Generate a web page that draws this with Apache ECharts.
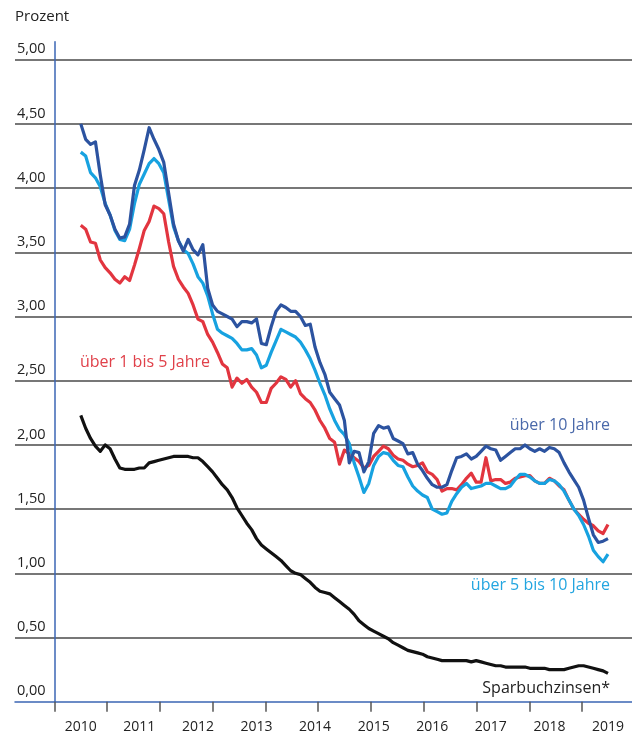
<!DOCTYPE html>
<html>
<head>
<meta charset="utf-8">
<script src="https://cdn.jsdelivr.net/npm/echarts@6/dist/echarts.min.js"></script>
<style>
  html, body { margin: 0; padding: 0; background: #fff; }
  #chart { width: 632px; height: 738px; }
</style>
</head>
<body>
<div id="chart"></div>
<script>
// Monatswerte Jan 2010 - Jan 2019, Prozent
var years = [2010, 2011, 2012, 2013, 2014, 2015, 2016, 2017, 2018, 2019];

var ueber10 = [
  4.50, 4.38, 4.34, 4.36, 4.10, 3.87, 3.79, 3.68, 3.61, 3.62, 3.72, 4.02,
  4.14, 4.30, 4.47, 4.38, 4.30, 4.20, 3.96, 3.72, 3.59, 3.51, 3.60, 3.52,
  3.48, 3.56, 3.22, 3.09, 3.04, 3.02, 3.00, 2.98, 2.92, 2.96, 2.96, 2.95,
  2.98, 2.79, 2.78, 2.92, 3.04, 3.09, 3.07, 3.04, 3.04, 3.00, 2.93, 2.94,
  2.76, 2.64, 2.55, 2.41, 2.36, 2.31, 2.19, 1.86, 1.95, 1.94, 1.79, 1.87,
  2.09, 2.15, 2.13, 2.14, 2.05, 2.03, 2.01, 1.93, 1.94, 1.85, 1.80, 1.74,
  1.69, 1.67, 1.67, 1.69, 1.80, 1.90, 1.91, 1.93, 1.89, 1.91, 1.95, 1.99,
  1.97, 1.96, 1.88, 1.91, 1.94, 1.97, 1.97, 2.00, 1.97, 1.95, 1.97, 1.95,
  1.98, 1.97, 1.94, 1.86, 1.79, 1.73, 1.67, 1.57, 1.43, 1.30, 1.24, 1.25,
  1.27
];

var ueber5bis10 = [
  4.28, 4.25, 4.12, 4.08, 4.01, 3.88, 3.79, 3.67, 3.60, 3.59, 3.68, 3.88,
  4.03, 4.11, 4.19, 4.23, 4.19, 4.12, 3.91, 3.70, 3.59, 3.52, 3.49, 3.41,
  3.31, 3.26, 3.16, 3.02, 2.90, 2.87, 2.85, 2.83, 2.79, 2.74, 2.74, 2.75,
  2.70, 2.60, 2.62, 2.72, 2.81, 2.90, 2.88, 2.86, 2.84, 2.80, 2.74, 2.67,
  2.58, 2.48, 2.39, 2.28, 2.19, 2.12, 2.08, 2.01, 1.86, 1.75, 1.63, 1.70,
  1.84, 1.91, 1.94, 1.93, 1.88, 1.84, 1.83, 1.75, 1.68, 1.64, 1.61, 1.59,
  1.50, 1.48, 1.46, 1.47, 1.56, 1.62, 1.67, 1.70, 1.66, 1.67, 1.68, 1.70,
  1.70, 1.68, 1.66, 1.66, 1.68, 1.73, 1.77, 1.77, 1.75, 1.72, 1.70, 1.70,
  1.73, 1.72, 1.69, 1.64, 1.57, 1.50, 1.45, 1.38, 1.29, 1.18, 1.13, 1.09,
  1.15
];

var ueber1bis5 = [
  3.71, 3.68, 3.58, 3.57, 3.44, 3.38, 3.34, 3.29, 3.26, 3.31, 3.28, 3.40,
  3.53, 3.67, 3.74, 3.86, 3.84, 3.80, 3.58, 3.39, 3.29, 3.23, 3.18, 3.09,
  2.98, 2.96, 2.86, 2.80, 2.72, 2.63, 2.60, 2.45, 2.52, 2.48, 2.51, 2.45,
  2.41, 2.33, 2.33, 2.44, 2.48, 2.53, 2.51, 2.45, 2.50, 2.40, 2.36, 2.33,
  2.27, 2.19, 2.13, 2.05, 2.02, 1.85, 1.96, 1.93, 1.90, 1.87, 1.82, 1.84,
  1.91, 1.95, 1.99, 1.97, 1.92, 1.89, 1.88, 1.85, 1.83, 1.84, 1.86, 1.79,
  1.77, 1.73, 1.64, 1.66, 1.66, 1.65, 1.69, 1.74, 1.78, 1.71, 1.71, 1.90,
  1.72, 1.73, 1.73, 1.70, 1.71, 1.74, 1.75, 1.76, 1.76, 1.72, 1.70, 1.70,
  1.74, 1.72, 1.68, 1.65, 1.57, 1.50, 1.46, 1.42, 1.39, 1.37, 1.33, 1.31,
  1.38
];

var sparbuch = [
  2.23, 2.13, 2.05, 1.99, 1.95, 2.00, 1.97, 1.89, 1.82, 1.81, 1.81, 1.81,
  1.82, 1.82, 1.86, 1.87, 1.88, 1.89, 1.90, 1.91, 1.91, 1.91, 1.91, 1.90,
  1.90, 1.87, 1.83, 1.79, 1.74, 1.69, 1.65, 1.59, 1.51, 1.45, 1.39, 1.34,
  1.27, 1.22, 1.19, 1.16, 1.13, 1.10, 1.06, 1.02, 1.00, 0.99, 0.96, 0.93,
  0.89, 0.86, 0.85, 0.84, 0.81, 0.78, 0.75, 0.72, 0.68, 0.63, 0.60, 0.57,
  0.55, 0.53, 0.51, 0.49, 0.46, 0.44, 0.42, 0.40, 0.39, 0.38, 0.37, 0.35,
  0.34, 0.33, 0.32, 0.32, 0.32, 0.32, 0.32, 0.32, 0.31, 0.32, 0.31, 0.30,
  0.29, 0.28, 0.28, 0.27, 0.27, 0.27, 0.27, 0.27, 0.26, 0.26, 0.26, 0.26,
  0.25, 0.25, 0.25, 0.25, 0.26, 0.27, 0.28, 0.28, 0.27, 0.26, 0.25, 0.24,
  0.22
];

var yearTicks = [0, 1, 2, 3, 4, 5, 6, 7, 8, 9, 10];

// x-Wert je Monat (Jahr + Monat/12)
function withDates(arr) {
  return arr.map(function (v, i) { return [2010 + i / 12, v]; });
}

var FONT = '"Open Sans", "Noto Sans", sans-serif';
var AXIS_BLUE = '#3b66b4';
var LABEL_FONT = '16px ' + FONT;

var chart = echarts.init(document.getElementById('chart'), null, { renderer: 'canvas' });

var option = {
  animation: false,
  backgroundColor: '#fff',
  textStyle: { fontFamily: FONT },
  grid: { left: 15, right: 0, top: 41.7, bottom: 36.3, containLabel: false },
  xAxis: [{
    type: 'value',
    position: 'bottom',
    min: 2008.877,
    max: 2019.41,
    axisLine: { show: true, lineStyle: { color: AXIS_BLUE, width: 1.5 } },
    axisTick: { show: false },
    splitLine: { show: false },
    axisLabel: {
      customValues: years,
      formatter: function (v) { return String(v); },
      color: '#222',
      fontSize: 14,
      fontFamily: FONT,
      margin: 18
    }
  }, {
    // nur die Jahresstriche
    type: 'value',
    position: 'bottom',
    min: -0.7447,
    max: 10.947,
    axisLine: { show: false },
    axisTick: { show: true, customValues: yearTicks, length: 10, lineStyle: { color: '#555', width: 1.5 } },
    axisLabel: { show: false },
    splitLine: { show: false }
  }],
  yAxis: [{
    type: 'value',
    min: 0,
    max: 5.14,
    interval: 0.5,
    axisLine: { show: false },
    axisTick: { show: false },
    splitLine: {
      show: true,
      showMinLine: false,
      showMaxLine: false,
      lineStyle: { color: '#4a4a4a', width: 1.5 }
    },
    axisLabel: {
      inside: true,
      showMaxLabel: false,
      margin: 2,
      verticalAlign: 'bottom',
      padding: [0, 0, 3, 0],
      color: '#222',
      fontSize: 14.5,
      fontFamily: FONT,
      formatter: function (v) { return v.toFixed(2).replace('.', ','); }
    }
  }, {
    // blaue senkrechte Achse
    type: 'value',
    position: 'left',
    offset: -39.3,
    min: 0,
    max: 1,
    axisLine: { show: true, lineStyle: { color: AXIS_BLUE, width: 1.5 } },
    axisTick: { show: false },
    axisLabel: { show: false },
    splitLine: { show: false }
  }],
  series: [{
    name: 'Sparbuchzinsen*',
    type: 'line',
    data: withDates(sparbuch),
    showSymbol: false,
    lineStyle: { color: '#111', width: 3.2, join: 'round' },
    z: 2
  }, {
    name: 'über 1 bis 5 Jahre',
    type: 'line',
    data: withDates(ueber1bis5),
    showSymbol: false,
    lineStyle: { color: '#e2353f', width: 3.2, join: 'round' },
    z: 3
  }, {
    name: 'über 5 bis 10 Jahre',
    type: 'line',
    data: withDates(ueber5bis10),
    showSymbol: false,
    lineStyle: { color: '#17a2e0', width: 3.2, join: 'round' },
    z: 4
  }, {
    name: 'über 10 Jahre',
    type: 'line',
    data: withDates(ueber10),
    showSymbol: false,
    lineStyle: { color: '#2c53a0', width: 3.2, join: 'round' },
    z: 5
  }],
  graphic: [
    { type: 'text', x: 15, y: 17, style: { text: 'Prozent', font: '15px ' + FONT, fill: '#222', textVerticalAlign: 'middle' } },
    { type: 'text', x: 80, y: 362, style: { text: 'über 1 bis 5 Jahre', font: LABEL_FONT, fill: '#e0414a', textVerticalAlign: 'middle' } },
    { type: 'text', x: 610, y: 425, style: { text: 'über 10 Jahre', font: LABEL_FONT, fill: '#4a69aa', textAlign: 'right', textVerticalAlign: 'middle' } },
    { type: 'text', x: 610, y: 585, style: { text: 'über 5 bis 10 Jahre', font: LABEL_FONT, fill: '#22a5e0', textAlign: 'right', textVerticalAlign: 'middle' } },
    { type: 'text', x: 610, y: 688, style: { text: 'Sparbuchzinsen*', font: LABEL_FONT, fill: '#222', textAlign: 'right', textVerticalAlign: 'middle' } }
  ]
};

chart.setOption(option);
</script>
</body>
</html>
